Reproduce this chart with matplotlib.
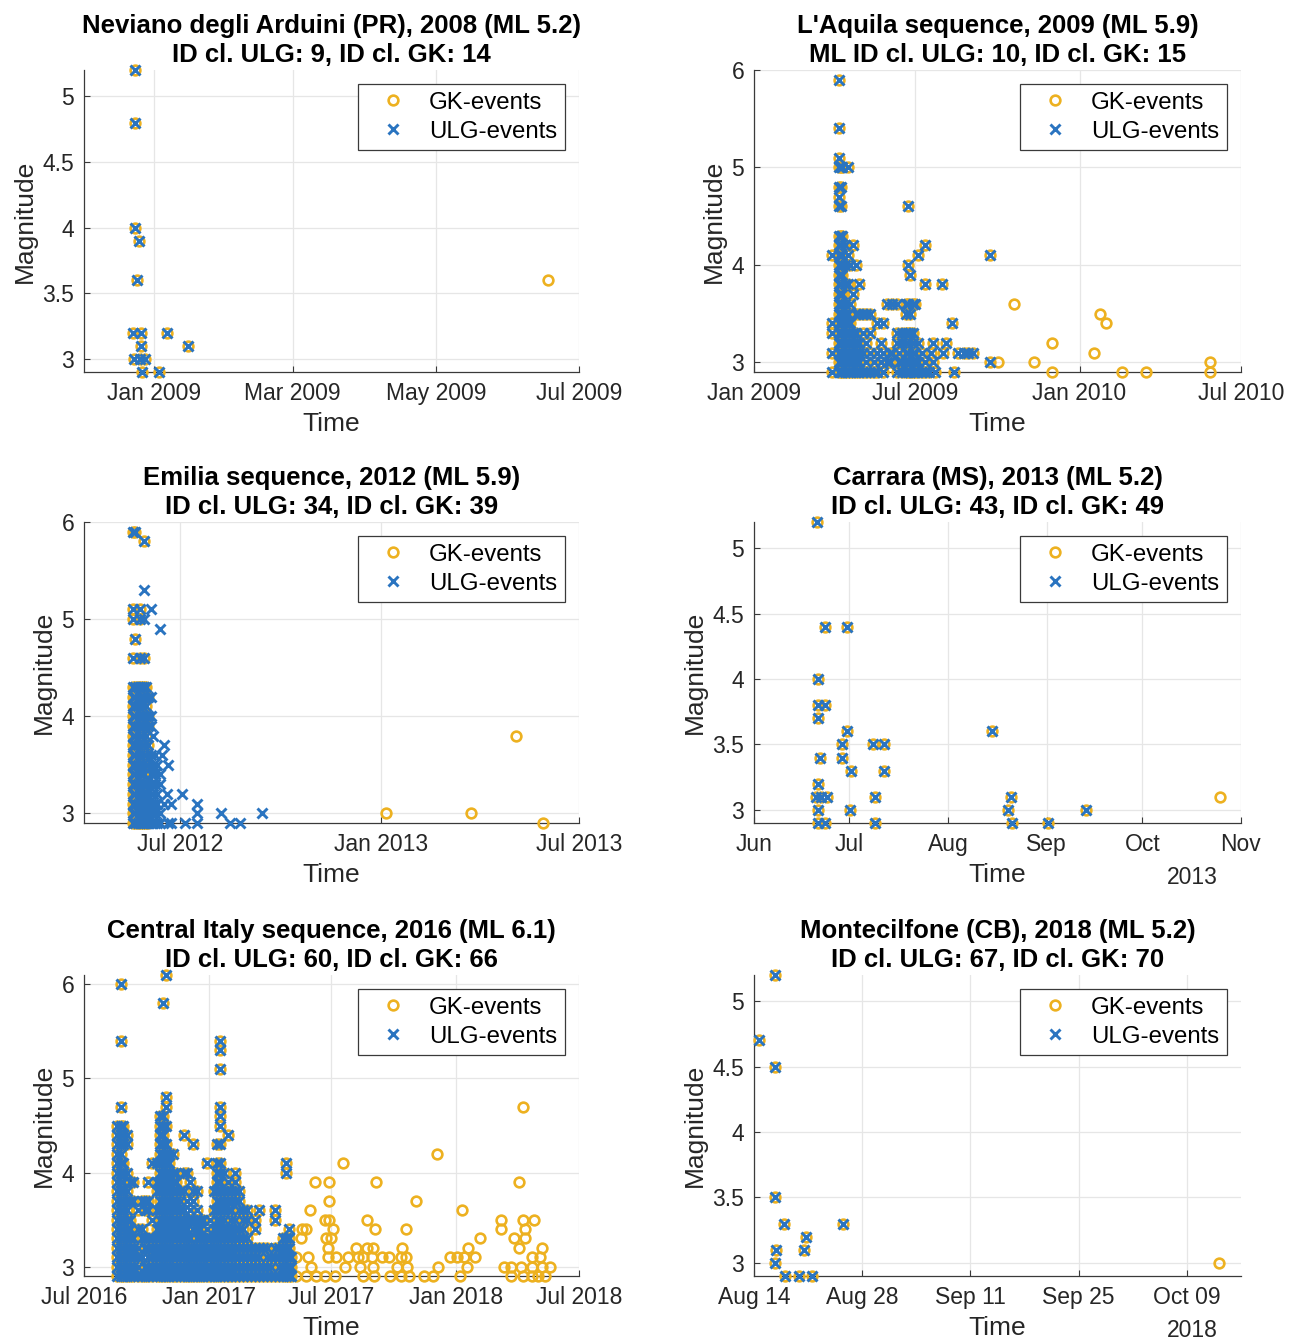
import datetime as dt
import numpy as np
import matplotlib
matplotlib.use("Agg")
import matplotlib.pyplot as plt
import matplotlib.dates as mdates
from matplotlib.ticker import FixedLocator, FuncFormatter

plt.rcParams['font.family'] = ['Liberation Sans', 'DejaVu Sans']

GK_COLOR = '#EDB120'
ULG_COLOR = '#2a74c0'
AX_COLOR = '#262626'

# ---------------- Panel 1: Neviano degli Arduini (days from 2009-01-01)
nev_both_day = [-8.4, -8.1, -8.1, -6.7, -7.5, -9.3, -5.8, -5.8, -8.8, -6.1, -4.0, -5.3, 1.8, 5.3, 14.4]
nev_both_mag = [5.2, 4.8, 4.0, 3.9, 3.6, 3.2, 3.2, 3.1, 3.0, 3.0, 3.0, 2.9, 2.9, 3.2, 3.1]
nev_gk_day = [167.9]
nev_gk_mag = [3.6]

# ---------------- Panel 2: L'Aquila (days from 2009-01-01), columns of shared events
aq_col_day = [87, 95, 97, 99, 102, 105, 108, 111, 114, 118, 122, 126, 130, 134, 138, 142,
              145, 149, 152, 155, 160, 163, 166, 170, 173, 175, 178, 181, 184, 188, 192, 196,
              199, 201, 203, 211, 212, 215, 222, 224, 229, 235, 240, 245, 265]
aq_col_mag = [
    [4.1, 3.4, 3.3, 3.1, 2.9],
    [5.9, 5.4, 5.1, 5.0, 4.8, 4.7, 4.6, 4.3, 4.2, 4.1, 4.0, 3.9, 3.8, 3.7, 3.6, 3.5, 3.4, 3.3, 3.2, 3.1, 3.0, 2.9],
    [5.0, 4.8, 4.6, 4.3, 4.2, 4.1, 4.0, 3.9, 3.8, 3.7, 3.6, 3.5, 3.4, 3.3, 3.2, 3.1, 3.0, 2.9],
    [5.0, 4.3, 4.1, 4.0, 3.9, 3.7, 3.6, 3.5, 3.4, 3.3, 3.2, 3.1, 3.0, 2.9],
    [4.2, 4.0, 3.8, 3.6, 3.5, 3.4, 3.3, 3.2, 3.1, 3.0, 2.9],
    [5.0, 4.1, 3.8, 3.5, 3.4, 3.3, 3.2, 3.1, 3.0, 2.9],
    [4.0, 3.6, 3.4, 3.3, 3.2, 3.1, 3.0, 2.9],
    [4.2, 3.7, 3.3, 3.2, 3.1, 3.0, 2.9],
    [4.0, 3.5, 3.3, 3.2, 3.1, 3.0, 2.9],
    [3.8, 3.5, 3.2, 3.1, 3.0, 2.9],
    [3.5, 3.3, 3.1, 2.9],
    [3.5, 3.2, 3.0, 2.9],
    [3.5, 3.3, 3.1, 2.9],
    [3.0, 2.9],
    [3.4, 3.1, 2.9],
    [3.2, 3.0],
    [3.4, 3.1, 2.9],
    [3.6, 3.0],
    [3.1, 3.0],
    [3.6, 3.1],
    [3.6, 3.3, 3.2, 2.9],
    [3.1, 3.0],
    [3.3, 3.2, 3.0, 2.9],
    [3.6, 3.5, 3.3, 3.2, 3.1, 3.0, 2.9],
    [4.6, 4.0, 3.6, 3.3, 3.2, 3.1, 3.0, 2.9],
    [3.9, 3.5, 3.3, 3.0, 2.9],
    [3.6, 3.3, 3.2, 3.1, 3.0, 2.9],
    [3.6, 3.1, 3.0, 2.9],
    [4.1, 3.2, 3.0, 2.9],
    [3.1, 2.9],
    [4.2, 3.8, 3.0, 2.9],
    [2.9],
    [3.1],
    [3.2, 3.0],
    [2.9],
    [3.8],
    [3.1],
    [3.2],
    [3.4],
    [2.9],
    [3.1], [3.1], [3.1], [3.1],
    [4.1, 3.0],
]
aq_gk_day = [274, 292, 314, 334, 334, 381, 388, 395, 413, 439, 511, 511]
aq_gk_mag = [3.0, 3.6, 3.0, 3.2, 2.9, 3.1, 3.5, 3.4, 2.9, 2.9, 3.0, 2.9]

# ---------------- Panel 3: Emilia (days from 2012-07-01)
em_col_day = [-43, -41, -39, -37, -35, -33, -31, -29]
em_col_mag = [
    [5.9, 5.1, 5.0, 4.6, 4.3, 4.2, 4.1, 4.0, 3.9, 3.8, 3.7, 3.6, 3.5, 3.4, 3.3, 3.2, 3.1, 3.0, 2.9],
    [5.9, 4.8, 4.3, 4.2, 4.1, 4.0, 3.9, 3.8, 3.7, 3.6, 3.5, 3.4, 3.3, 3.2, 3.1, 3.0, 2.9],
    [4.3, 4.1, 3.9, 3.7, 3.5, 3.3, 3.1, 2.9],
    [5.1, 5.0, 4.6, 4.3, 4.2, 4.0, 3.9, 3.8, 3.6, 3.5, 3.4, 3.3, 3.2, 3.1, 3.0, 2.9],
    [4.3, 4.1, 4.0, 3.8, 3.7, 3.5, 3.4, 3.2, 3.1, 3.0, 2.9],
    [5.8, 4.6, 4.3, 4.2, 4.0, 3.9, 3.7, 3.6, 3.4, 3.3, 3.2, 3.1, 3.0, 2.9],
    [4.3, 4.1, 4.0, 3.8, 3.6, 3.5, 3.3, 3.2, 3.1, 3.0, 2.9],
    [4.2, 4.0, 3.9, 3.7, 3.5, 3.3, 3.1, 3.0, 2.9],
]
em_ulg_col_day = [-33, -27, -25, -23, -21, -18, -17, -15, -12, -11, -8, 2, 4, 15, 37, 46, 55, 75]
em_ulg_col_mag = [
    [5.3, 5.0],
    [5.1, 4.2, 4.0, 3.9, 3.6, 3.4, 3.3, 3.2, 3.1, 3.0, 2.9],
    [3.8, 3.5, 3.4, 3.2, 3.1, 3.0, 2.9],
    [3.6, 3.4, 3.3, 3.1, 3.0, 2.9],
    [3.5, 3.2, 3.1, 2.9],
    [4.9, 3.4, 3.3, 3.0, 2.9],
    [3.6],
    [3.7, 3.1],
    [3.2],
    [3.5, 2.9],
    [3.1, 2.9],
    [3.2],
    [2.9],
    [3.1, 3.0, 2.9],
    [3.0],
    [2.9],
    [2.9],
    [3.0],
]
em_gk_day = [188, 266, 307, 332]
em_gk_mag = [3.0, 3.0, 3.8, 2.9]

# ---------------- Panel 4: Carrara (days from 2013-06-01)
ca_both_day = [19.8, 22.4, 29.3, 20.0, 20.0, 22.4, 20.0, 29.3, 27.5, 20.7, 27.5, 30.4, 20.0,
               19.4, 21.0, 22.9, 20.0, 30.1, 20.0, 22.4, 37.5, 40.7, 40.7, 37.9, 37.9, 74.7,
               80.7, 79.7, 81.0, 92.4, 104.3]
ca_both_mag = [5.2, 4.4, 4.4, 4.0, 3.8, 3.8, 3.7, 3.6, 3.5, 3.4, 3.4, 3.3, 3.2,
               3.1, 3.1, 3.1, 3.0, 3.0, 2.9, 2.9, 3.5, 3.5, 3.3, 3.1, 2.9, 3.6,
               3.1, 3.0, 2.9, 2.9, 3.0]
ca_gk_day = [146.4]
ca_gk_mag = [3.1]

# ---------------- Panel 5: Central Italy (days from 2016-07-01)
ci_col_day = [48, 54, 58, 63, 68, 73, 79, 85, 90, 95, 101, 107, 112, 117, 121, 126, 131, 136,
              141, 147, 152, 157, 161, 166, 171, 176, 181, 186, 191, 196, 201, 206, 212, 217,
              222, 228, 234, 240, 246, 252, 258, 264, 270, 276, 282, 288, 294, 298, 303, 306]
ci_col_mag = [
    [4.5, 4.4, 4.3, 4.2, 4.1, 4.0, 3.9, 3.8, 3.7, 3.6, 3.5, 3.4, 3.3, 3.2, 3.1, 3.0, 2.9],
    [6.0, 5.4, 4.7, 4.5, 4.4, 4.3, 4.2, 4.1, 4.0, 3.9, 3.8, 3.7, 3.6, 3.5, 3.4, 3.3, 3.2, 3.1, 3.0, 2.9],
    [4.5, 4.4, 4.3, 4.1, 4.0, 3.9, 3.8, 3.7, 3.6, 3.5, 3.4, 3.3, 3.2, 3.1, 3.0, 2.9],
    [4.4, 4.3, 4.0, 3.8, 3.7, 3.6, 3.5, 3.4, 3.3, 3.2, 3.1, 3.0, 2.9],
    [3.9, 3.7, 3.5, 3.4, 3.3, 3.2, 3.1, 3.0, 2.9],
    [3.9, 3.7, 3.3, 3.2, 3.1, 3.0, 2.9],
    [3.6, 3.4, 3.2, 3.1, 3.0, 2.9],
    [3.7, 3.4, 3.3, 3.1, 2.9],
    [3.7, 3.6, 3.3, 3.2, 3.0, 2.9],
    [3.9, 3.7, 3.6, 3.3, 3.2, 3.1, 3.0, 2.9],
    [4.1, 3.5, 3.3, 3.2, 3.1, 3.0, 2.9],
    [4.1, 3.9, 3.8, 3.6, 3.4, 3.3, 3.2, 3.1, 3.0, 2.9],
    [4.6, 4.5, 4.4, 4.3, 4.2, 4.1, 4.0, 3.9, 3.8, 3.7, 3.6, 3.5, 3.4, 3.3, 3.2, 3.1, 3.0, 2.9],
    [5.8, 4.6, 4.5, 4.4, 4.3, 4.2, 4.1, 4.0, 3.9, 3.8, 3.7, 3.6, 3.5, 3.4, 3.3, 3.2, 3.1, 3.0, 2.9],
    [6.1, 4.8, 4.7, 4.5, 4.3, 4.2, 4.1, 4.0, 3.9, 3.8, 3.7, 3.6, 3.5, 3.4, 3.3, 3.2, 3.1, 3.0, 2.9],
    [4.2, 4.1, 4.0, 3.9, 3.8, 3.7, 3.6, 3.5, 3.4, 3.3, 3.2, 3.1, 3.0, 2.9],
    [4.2, 4.0, 3.9, 3.8, 3.7, 3.6, 3.5, 3.4, 3.3, 3.2, 3.1, 3.0, 2.9],
    [4.0, 3.9, 3.8, 3.7, 3.6, 3.5, 3.4, 3.3, 3.2, 3.1, 3.0, 2.9],
    [3.8, 3.7, 3.6, 3.5, 3.4, 3.3, 3.2, 3.1, 3.0, 2.9],
    [4.4, 4.0, 3.8, 3.6, 3.5, 3.4, 3.3, 3.2, 3.1, 3.0, 2.9],
    [4.0, 3.7, 3.5, 3.4, 3.3, 3.2, 3.1, 3.0, 2.9],
    [3.9, 3.6, 3.5, 3.3, 3.2, 3.1, 3.0, 2.9],
    [4.3, 3.8, 3.7, 3.5, 3.4, 3.2, 3.1, 3.0, 2.9],
    [3.8, 3.6, 3.5, 3.4, 3.3, 3.2, 3.1, 3.0, 2.9],
    [3.5, 3.4, 3.3, 3.2, 3.1, 3.0, 2.9],
    [3.5, 3.3, 3.2, 3.1, 3.0, 2.9],
    [4.1, 3.4, 3.3, 3.2, 3.1, 3.0, 2.9],
    [3.5, 3.3, 3.2, 3.1, 3.0, 2.9],
    [3.8, 3.6, 3.4, 3.3, 3.2, 3.1, 3.0, 2.9],
    [4.3, 4.1, 4.0, 3.9, 3.8, 3.7, 3.6, 3.5, 3.4, 3.3, 3.2, 3.1, 3.0, 2.9],
    [5.4, 5.3, 5.1, 4.7, 4.6, 4.5, 4.3, 4.1, 4.0, 3.9, 3.8, 3.7, 3.6, 3.5, 3.4, 3.3, 3.2, 3.1, 3.0, 2.9],
    [4.0, 3.8, 3.7, 3.6, 3.5, 3.4, 3.3, 3.2, 3.1, 3.0, 2.9],
    [4.4, 3.9, 3.8, 3.7, 3.6, 3.4, 3.3, 3.2, 3.1, 3.0, 2.9],
    [3.8, 3.7, 3.6, 3.5, 3.4, 3.3, 3.2, 3.1, 3.0, 2.9],
    [4.0, 3.9, 3.8, 3.7, 3.5, 3.4, 3.3, 3.2, 3.1, 3.0, 2.9],
    [3.8, 3.7, 3.6, 3.4, 3.3, 3.2, 3.1, 3.0, 2.9],
    [3.6, 3.5, 3.4, 3.3, 3.2, 3.1, 3.0, 2.9],
    [3.6, 3.5, 3.3, 3.2, 3.1, 3.0, 2.9],
    [3.2, 3.1, 3.0, 2.9],
    [3.5, 3.4, 3.2, 3.1, 3.0, 2.9],
    [3.6, 3.2, 3.1, 3.0, 2.9],
    [3.2, 3.0, 2.9],
    [3.2, 3.1, 3.0, 2.9],
    [3.1, 3.0, 2.9],
    [3.6, 3.5, 3.2, 3.1, 2.9],
    [3.2, 3.1, 3.0, 2.9],
    [3.3, 3.2, 3.1, 3.0, 2.9],
    [4.1, 4.0, 3.3, 3.2, 3.1, 3.0, 2.9],
    [3.4, 3.3, 3.2, 3.1, 3.0, 2.9],
    [3.1, 3.0, 2.9],
]
ci_gk_level = [4.7, 4.2, 4.1, 3.9, 3.7, 3.6, 3.5, 3.4, 3.3, 3.2, 3.1, 3.0, 2.9]
ci_gk_days = [
    [647],
    [520],
    [382],
    [340, 362, 430, 642],
    [362, 489],
    [334, 558],
    [355, 362, 417, 615, 647, 664],
    [322, 327, 367, 429, 475, 615, 650],
    [320, 357, 365, 584, 634, 651],
    [360, 401, 417, 426, 469, 566, 642, 676],
    [312, 330, 360, 372, 390, 404, 412, 425, 440, 450, 467, 475, 540, 550, 560, 577, 660, 672],
    [335, 385, 407, 426, 462, 476, 522, 565, 620, 630, 645, 660, 675, 687],
    [312, 327, 342, 355, 370, 412, 427, 451, 467, 480, 502, 515, 554, 630, 647, 660, 670, 680],
]

# ---------------- Panel 6: Montecilfone (days from 2018-08-14)
mo_both_day = [0.7, 2.66, 2.66, 2.66, 3.9, 2.9, 2.66, 4.0, 5.85, 7.45, 6.75, 6.5, 11.5]
mo_both_mag = [4.7, 5.2, 4.5, 3.5, 3.3, 3.1, 3.0, 2.9, 2.9, 2.9, 3.2, 3.1, 3.3]
mo_gk_day = [60.1]
mo_gk_mag = [3.0]


def expand_cols(days, cols):
    d, m = [], []
    for day, mags in zip(days, cols):
        d.extend([day] * len(mags))
        m.extend(mags)
    return d, m


def expand_levels(levels, day_lists):
    d, m = [], []
    for lev, days in zip(levels, day_lists):
        d.extend(days)
        m.extend([lev] * len(days))
    return d, m


def D(s):
    return mdates.date2num(dt.datetime.strptime(s, '%Y-%m-%d'))


fig = plt.figure(figsize=(12.98, 13.40), dpi=100)

W, H = 1298.0, 1340.0
cols_px = [(84, 579), (754, 1241)]
rows_px = [(70, 372), (522, 823), (975, 1276)]


def make_ax(r, c):
    x0, x1 = cols_px[c]
    y0, y1 = rows_px[r]
    return fig.add_axes([x0 / W, 1 - y1 / H, (x1 - x0) / W, (y1 - y0) / H])


def draw(ax, base, both, gk_only, ulg_only, xlim, xticks, fmt, ylim, yticks, title, year=None):
    b = D(base)
    both_d, both_m = both
    gk_d = list(both_d) + list(gk_only[0])
    gk_m = list(both_m) + list(gk_only[1])
    ul_d = list(both_d) + list(ulg_only[0])
    ul_m = list(both_m) + list(ulg_only[1])
    ax.plot(b + np.array(gk_d, dtype=float), gk_m, linestyle='none', marker='o',
            mfc='none', mec=GK_COLOR, ms=7.0, mew=1.9, clip_on=False, label='GK-events', zorder=3)
    ax.plot(b + np.array(ul_d, dtype=float), ul_m, linestyle='none', marker='x',
            color=ULG_COLOR, ms=6.8, mew=2.1, clip_on=False, label='ULG-events', zorder=4)
    ax.set_xlim(D(xlim[0]), D(xlim[1]))
    ax.set_ylim(*ylim)
    ax.xaxis.set_major_locator(FixedLocator([D(t) for t in xticks]))
    ax.xaxis.set_major_formatter(mdates.DateFormatter(fmt))
    ax.yaxis.set_major_locator(FixedLocator(yticks))
    ax.yaxis.set_major_formatter(FuncFormatter(lambda v, p: '%g' % v))
    for s in ['top', 'right']:
        ax.spines[s].set_visible(False)
    for s in ['left', 'bottom']:
        ax.spines[s].set_color('#3a3a3a')
        ax.spines[s].set_linewidth(0.9)
    ax.grid(True, color='#e6e6e6', linewidth=0.9)
    ax.set_axisbelow(True)
    ax.tick_params(direction='in', length=4, width=0.8, labelsize=16.5,
                   colors='#3a3a3a', labelcolor=AX_COLOR, pad=7)
    ax.set_xlabel('Time', fontsize=19, color=AX_COLOR, labelpad=5)
    ax.set_ylabel('Magnitude', fontsize=19, color=AX_COLOR, labelpad=4)
    ax.set_title(title, fontsize=18.5, fontweight='bold', color='black', pad=6, linespacing=1.22)
    leg = ax.legend(loc='upper right', fontsize=17.3, frameon=True, fancybox=False,
                    edgecolor='#3a3a3a', framealpha=1, borderpad=0.3, labelspacing=0.3,
                    handlelength=2.3, handletextpad=0.35, borderaxespad=0.6, numpoints=1)
    leg.get_frame().set_linewidth(0.9)
    if year:
        ax.text(0.90, -0.18, year, transform=ax.transAxes, ha='center', va='center',
                fontsize=16.5, color=AX_COLOR)


ax1 = make_ax(0, 0)
draw(ax1, '2009-01-01', (nev_both_day, nev_both_mag), (nev_gk_day, nev_gk_mag), ([], []),
     ('2008-12-02', '2009-07-01'), ['2009-01-01', '2009-03-01', '2009-05-01', '2009-07-01'],
     '%b %Y', (2.9, 5.2), [3, 3.5, 4, 4.5, 5],
     'Neviano degli Arduini (PR), 2008 (ML 5.2)\nID cl. ULG: 9, ID cl. GK: 14')

ax2 = make_ax(0, 1)
draw(ax2, '2009-01-01', expand_cols(aq_col_day, aq_col_mag), (aq_gk_day, aq_gk_mag), ([], []),
     ('2009-01-01', '2010-07-01'), ['2009-01-01', '2009-07-01', '2010-01-01', '2010-07-01'],
     '%b %Y', (2.9, 6.0), [3, 4, 5, 6],
     "L'Aquila sequence, 2009 (ML 5.9)\nML ID cl. ULG: 10, ID cl. GK: 15")

ax3 = make_ax(1, 0)
draw(ax3, '2012-07-01', expand_cols(em_col_day, em_col_mag), (em_gk_day, em_gk_mag),
     expand_cols(em_ulg_col_day, em_ulg_col_mag),
     ('2012-04-04', '2013-07-01'), ['2012-07-01', '2013-01-01', '2013-07-01'],
     '%b %Y', (2.9, 6.0), [3, 4, 5, 6],
     'Emilia sequence, 2012 (ML 5.9)\nID cl. ULG: 34, ID cl. GK: 39')

ax4 = make_ax(1, 1)
draw(ax4, '2013-06-01', (ca_both_day, ca_both_mag), (ca_gk_day, ca_gk_mag), ([], []),
     ('2013-06-01', '2013-11-01'),
     ['2013-06-01', '2013-07-01', '2013-08-01', '2013-09-01', '2013-10-01', '2013-11-01'],
     '%b', (2.9, 5.2), [3, 3.5, 4, 4.5, 5],
     'Carrara (MS), 2013 (ML 5.2)\nID cl. ULG: 43, ID cl. GK: 49', year='2013')

ax5 = make_ax(2, 0)
draw(ax5, '2016-07-01', expand_cols(ci_col_day, ci_col_mag), expand_levels(ci_gk_level, ci_gk_days),
     ([], []),
     ('2016-07-01', '2018-07-01'),
     ['2016-07-01', '2017-01-01', '2017-07-01', '2018-01-01', '2018-07-01'],
     '%b %Y', (2.9, 6.1), [3, 4, 5, 6],
     'Central Italy sequence, 2016 (ML 6.1)\nID cl. ULG: 60, ID cl. GK: 66')

ax6 = make_ax(2, 1)
draw(ax6, '2018-08-14', (mo_both_day, mo_both_mag), (mo_gk_day, mo_gk_mag), ([], []),
     ('2018-08-14', '2018-10-16'),
     ['2018-08-14', '2018-08-28', '2018-09-11', '2018-09-25', '2018-10-09'],
     '%b %d', (2.9, 5.2), [3, 3.5, 4, 4.5, 5],
     'Montecilfone (CB), 2018 (ML 5.2)\nID cl. ULG: 67, ID cl. GK: 70', year='2018')

fig.savefig('out.png', dpi=100, facecolor='white')
